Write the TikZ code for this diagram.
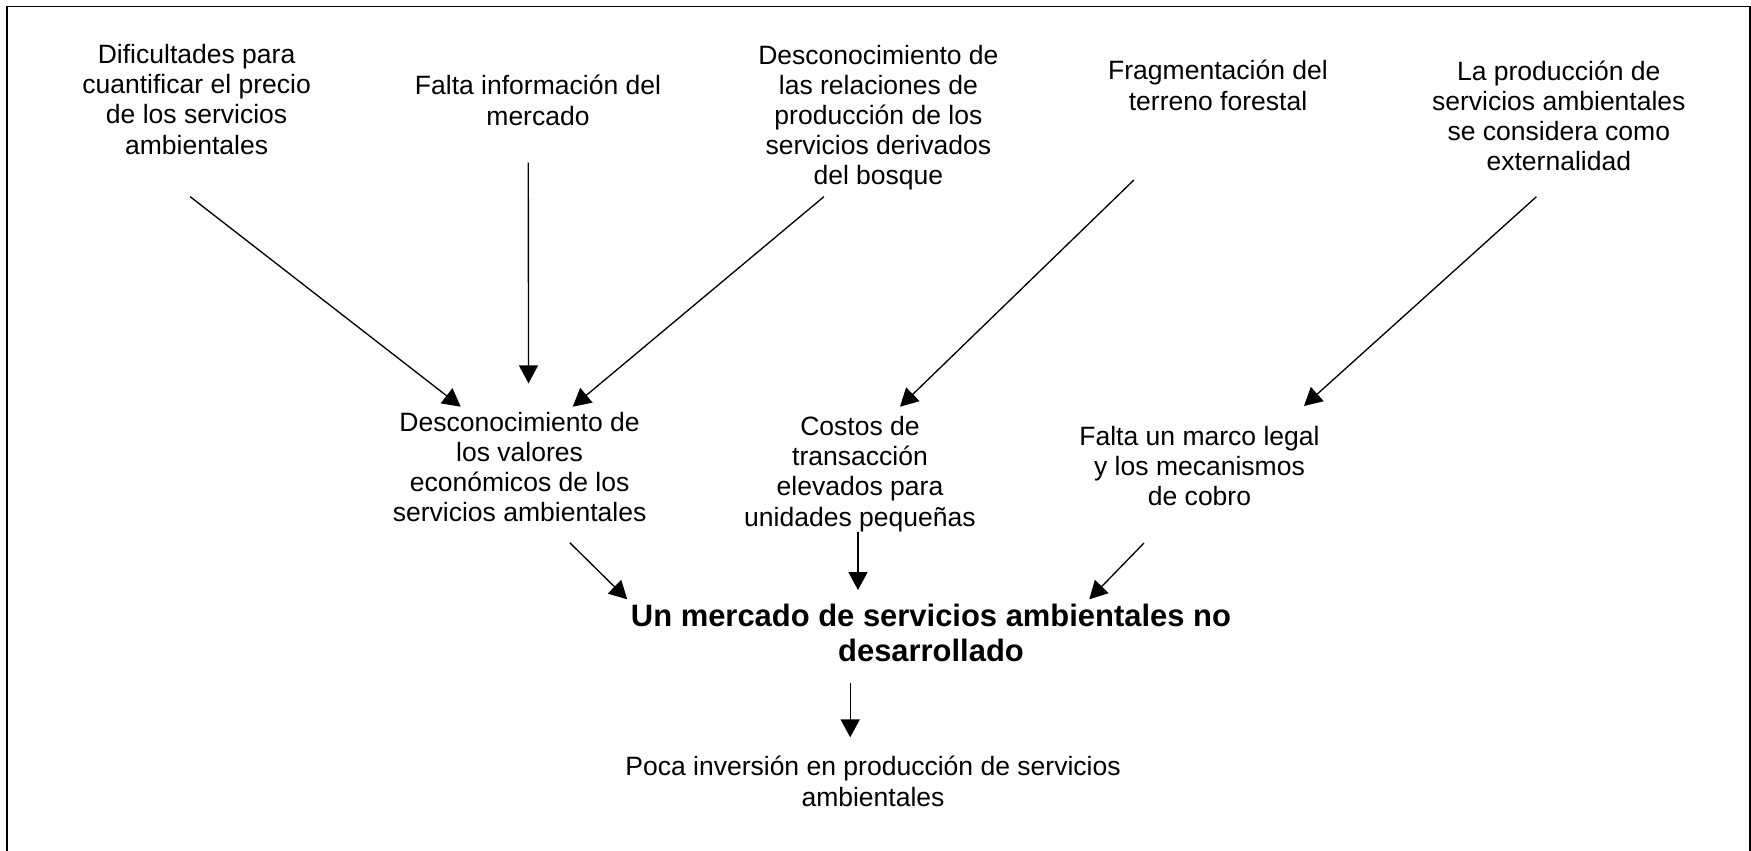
\documentclass[tikz,border=0pt]{standalone}
\usepackage{fontspec}
\setmainfont{Liberation Sans}
\usetikzlibrary{arrows.meta}
\begin{document}
\begin{tikzpicture}[x=0.4525pt,y=-0.4525pt,
  txt/.style={font=\fontsize{12}{13.6}\selectfont, align=center, inner sep=0pt, anchor=base},
  ttl/.style={font=\fontsize{14}{15.8}\selectfont\bfseries, align=center, inner sep=0pt, anchor=base},
  arr/.style={line width=0.6pt, -{Triangle[length=8.1pt,width=8.6pt]}},
  frameline/.style={line width=0.9pt}]
\useasboundingbox (0,0) rectangle (1751,851);
\draw[frameline] (7,851) -- (7,6.5) -- (1750,6.5) -- (1750,851);

% anchor=base is the baseline of the last line
\node[txt] (A) at (196.6,154) {Dificultades para\\cuantificar el precio\\de los servicios\\ambientales};
\node[txt] (B) at (538,125) {Falta información del\\mercado};
\node[txt] (C) at (878.4,184.3) {Desconocimiento de\\las relaciones de\\producción de los\\servicios derivados\\del bosque};
\node[txt] (D) at (1218,110) {Fragmentación del\\terreno forestal};
\node[txt] (E) at (1558.8,170.7) {La producción de\\servicios ambientales\\se considera como\\externalidad};

\node[txt] (F) at (519.6,521.7) {Desconocimiento de\\los valores\\económicos de los\\servicios ambientales};
\node[txt] (G) at (860,526) {Costos de\\transacción\\elevados para\\unidades pequeñas};
\node[txt] (H) at (1199.5,505.7) {Falta un marco legal\\y los mecanismos\\de cobro};

\node[ttl] (M) at (931,661.7) {Un mercado de servicios ambientales no\\desarrollado};
\node[txt] (P) at (873,806) {Poca inversión en producción de servicios\\ambientales};

\draw[arr] ([shift={(-6.4,42.7)}]A.base) -- ([shift={(-58.9,-115)}]F.base);
\draw[arr] ([shift={(-9.7,37.7)}]B.base) -- ([shift={(8.9,-138.4)}]F.base);
\draw[arr] ([shift={(-54.5,12.4)}]C.base) -- ([shift={(53.1,-115)}]F.base);
\draw[arr] ([shift={(-84.1,70)}]D.base) -- ([shift={(40,-119.3)}]G.base);
\draw[arr] ([shift={(-22.4,26)}]E.base) -- ([shift={(104.5,-99.7)}]H.base);
\draw[arr] ([shift={(50.2,21)}]F.base) -- ([shift={(-303.8,-62.4)}]M.base);
\draw[arr] ([shift={(-2,5.7)}]G.base) -- ([shift={(-73,-71.7)}]M.base);
\draw[arr] ([shift={(-55.5,37.3)}]H.base) -- ([shift={(158.3,-62.4)}]M.base);
\draw[arr] ([shift={(-80.8,21)}]M.base) -- ([shift={(-22.8,-68.7)}]P.base);
\end{tikzpicture}
\end{document}
